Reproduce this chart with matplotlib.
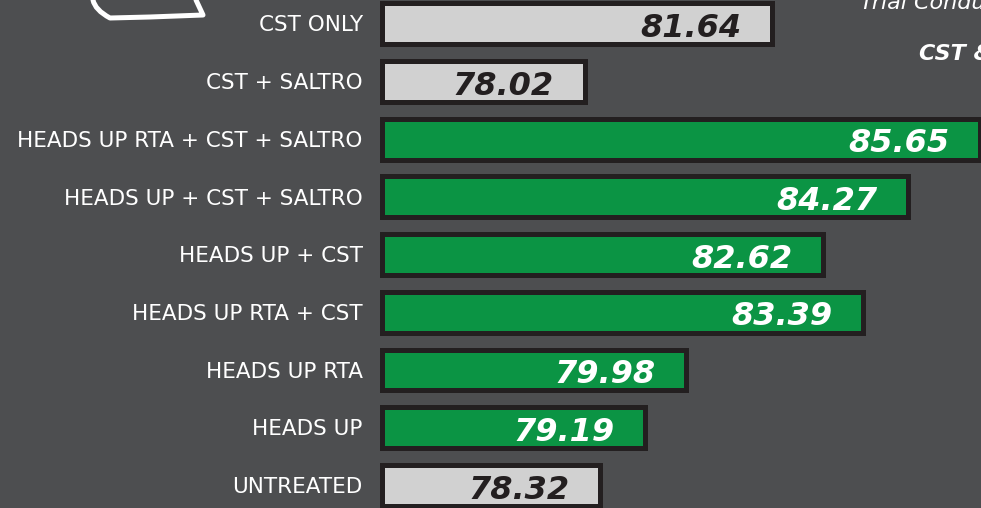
import matplotlib.pyplot as plt
from matplotlib.patches import PathPatch
from matplotlib.path import Path

# data (top to bottom)
treatments = ["CST ONLY", "CST + SALTRO", "HEADS UP RTA + CST + SALTRO",
              "HEADS UP + CST + SALTRO", "HEADS UP + CST", "HEADS UP RTA + CST",
              "HEADS UP RTA", "HEADS UP", "UNTREATED"]
scores = [81.64, 78.02, 85.65, 84.27, 82.62, 83.39, 79.98, 79.19, 78.32]
is_heads_up = [False, False, True, True, True, True, True, True, False]

bg = "#4d4e50"
edge = "#231f20"
green = "#0b9444"
light = "#d1d1d1"

base = 74.10
px_per_unit = 51.8

W, H = 981, 508
fig = plt.figure(figsize=(W / 100, H / 100), dpi=100)
fig.patch.set_facecolor(bg)

left_px = 381.5
ax = fig.add_axes([left_px / W, 0, 1 - left_px / W, 1])
ax.set_facecolor(bg)
ax.set_xlim(base, base + (W - left_px) / px_per_unit)
c0, step = 23.8, 57.7
ax.set_ylim((H - c0) / step, -c0 / step)
ax.axis("off")

ypos = list(range(len(treatments)))
colors = [green if h else light for h in is_heads_up]
bars = ax.barh(ypos, [s - base for s in scores], left=base, height=0.71,
               color=colors, edgecolor=edge, linewidth=3.6, clip_on=False)

for y, name, s, h in zip(ypos, treatments, scores, is_heads_up):
    # category label
    ax.annotate(name, xy=(0, y), xycoords=ax.get_yaxis_transform(),
                xytext=(-13.5, -5.5), textcoords="offset points",
                ha="right", va="baseline", color="white", fontsize=15.5,
                annotation_clip=False)
    # value label
    ax.annotate(f"{s:.2f}", xy=(s, y), xytext=(-22, -9.5),
                textcoords="offset points", ha="right", va="baseline",
                color="white" if h else edge, fontsize=23,
                fontweight="bold", fontstyle="italic", annotation_clip=False)

# decorative outline at top left (partial shape)
verts = [(93, 0), (95, 10), (110, 18), (150, 17), (203, 15), (196, 0)]
codes = [Path.MOVETO, Path.CURVE3, Path.CURVE3, Path.LINETO, Path.LINETO, Path.LINETO]
pts = [(x / W, 1 - y / H) for x, y in verts]
fig.add_artist(PathPatch(Path(pts, codes), transform=fig.transFigure,
                         fill=False, edgecolor="white", linewidth=3.6,
                         joinstyle="round", capstyle="round"))

# cut-off notes on the right
fig.text(860 / W, 1 - 9 / H, "Trial Conducted", color="white", fontsize=16,
         fontstyle="italic", fontweight="light", ha="left", va="baseline")
fig.text(919 / W, 1 - 60 / H, "CST & SALTRO", color="white", fontsize=16,
         fontstyle="italic", fontweight="bold", ha="left", va="baseline")

fig.savefig("out.png", dpi=100, facecolor=bg)
